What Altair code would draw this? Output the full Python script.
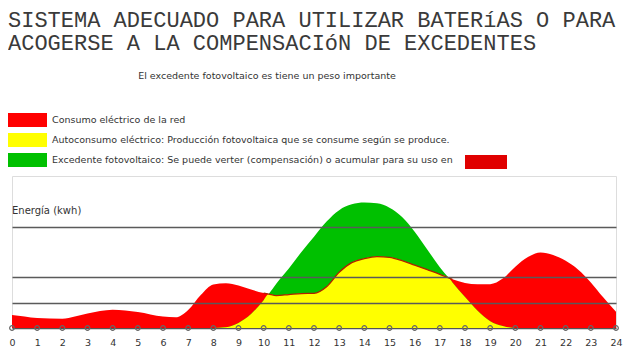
import altair as alt
import pandas as pd

# ---- data ----
hours = [0, 0.5, 1, 2, 3, 4, 5, 6, 6.5, 7, 7.5, 8, 8.5, 9, 9.5, 10, 10.2, 10.5, 11, 11.5,
         12, 12.5, 13, 13.5, 14, 14.5, 15, 15.5, 16, 16.5, 17, 17.35, 17.5, 18, 18.5,
         19, 19.5, 20, 20.5, 21, 21.5, 22, 22.5, 23, 23.5, 24]
consumo = [0.51, 0.45, 0.39, 0.37, 0.57, 0.72, 0.63, 0.45, 0.42, 0.71, 1.3, 1.72, 1.77,
           1.68, 1.52, 1.38, 1.34, 1.28, 1.32, 1.36, 1.37, 1.63, 2.2, 2.58, 2.74, 2.82,
           2.79, 2.66, 2.48, 2.3, 2.12, 1.98, 1.92, 1.78, 1.73, 1.73, 1.95, 2.42, 2.8,
           2.98, 2.88, 2.65, 2.3, 1.8, 1.2, 0.64]
produccion = [0, 0, 0, 0, 0, 0, 0, 0, 0, 0, 0, 0, 0.03, 0.2, 0.55, 1.1, 1.34, 1.75, 2.35,
              3.0, 3.6, 4.2, 4.65, 4.88, 4.95, 4.92, 4.75, 4.38, 3.8, 3.1, 2.4, 1.98, 1.8,
              1.22, 0.68, 0.27, 0.08, 0, 0, 0, 0, 0, 0, 0, 0, 0]
tick_hours = list(range(0, 25))

series = [
    "Consumo eléctrico de la red",
    "Autoconsumo eléctrico: Producción fotovoltaica que se consume según se produce.",
    "Excedente fotovoltaico: Se puede verter (compensación) o acumular para su uso en",
]
colors = ["#ff0000", "#ffff00", "#00c000"]

title_lines = ["SISTEMA ADECUADO PARA UTILIZAR BATERíAS O PARA",
               "ACOGERSE A LA COMPENSACIóN DE EXCEDENTES"]
subtitle = "El excedente fotovoltaico es tiene un peso importante"
y_label = "Energía (kwh)"

# ---- tables ----
rows = []
for h, c, p in zip(hours, consumo, produccion):
    rows.append({"hora": h, "valor": c, "serie": series[0]})
    rows.append({"hora": h, "valor": p, "serie": series[2]})
    rows.append({"hora": h, "valor": min(c, p), "serie": series[1]})
df = pd.DataFrame(rows)
df_line = pd.DataFrame({"hora": hours, "valor": consumo})
df_ticks = pd.DataFrame({"hora": tick_hours, "valor": [0] * len(tick_hours)})

small_font = "DejaVu Sans"

x_enc = alt.X("hora:Q", scale=alt.Scale(domain=[0, 24], nice=False),
              axis=alt.Axis(values=tick_hours, title=None, grid=False, ticks=False,
                            domain=True, domainColor="#555", domainWidth=1.5,
                            labelFont=small_font, labelFontSize=9.5, labelColor="#333",
                            labelPadding=9, labelFlush=False, labelOverlap=False,
                            labelBound=False, tickCount=25))
y_enc = alt.Y("valor:Q", stack=None, scale=alt.Scale(domain=[0, 6], nice=False),
              axis=alt.Axis(values=[1, 2, 4], title=None, labels=False, ticks=False,
                            domain=False, grid=True, gridColor="#5a5a5a",
                            gridWidth=1.5, zindex=1))

color_enc = alt.Color(
    "serie:N",
    scale=alt.Scale(domain=series, range=colors),
    legend=alt.Legend(
        title=None, orient="none", legendX=-7, legendY=-63, direction="vertical",
        symbolType="M-3,-1L3,-1L3,1L-3,1Z", symbolSize=196, symbolOffset=14,
        symbolStrokeWidth=0, symbolOpacity=1, labelOffset=19, labelLimit=0,
        labelFont=small_font, labelFontSize=9.5, labelColor="#333", rowPadding=6,
        padding=0, offset=0,
    ),
)

base = alt.Chart(df)
red = base.transform_filter(alt.datum.serie == series[0]).mark_area(
    interpolate="monotone").encode(x=x_enc, y=y_enc, color=color_enc)
green = base.transform_filter(alt.datum.serie == series[2]).mark_area(
    interpolate="monotone").encode(x=x_enc, y=y_enc, color=color_enc)
yellow = base.transform_filter(alt.datum.serie == series[1]).mark_area(
    interpolate="monotone").encode(x=x_enc, y=y_enc, color=color_enc)

outline = alt.Chart(df_line).transform_filter(
    (alt.datum.hora >= 10) & (alt.datum.hora <= 17.5)).mark_line(
    interpolate="monotone", color="#b02000", strokeWidth=1.3).encode(x=x_enc, y=y_enc)

ticks = alt.Chart(df_ticks).mark_point(shape="circle", size=22, filled=False,
                                       color="#666", strokeWidth=1.2, opacity=1).encode(
    x=x_enc, y=y_enc)

ylab = alt.Chart(pd.DataFrame({"t": [y_label]})).mark_text(
    align="left", baseline="middle", font=small_font, fontSize=10, color="#333").encode(
    x=alt.value(0), y=alt.value(35), text="t:N")

sub = alt.Chart(pd.DataFrame({"t": [subtitle]})).mark_text(
    align="center", baseline="middle", font=small_font, fontSize=9.5, color="#333").encode(
    x=alt.value(255), y=alt.value(-100), text="t:N")

title = alt.Chart(pd.DataFrame({"k": [1]})).mark_text(
    text=title_lines, align="left", baseline="alphabetic", font="Liberation Mono",
    fontSize=22, color="#3a3a3a", lineHeight=23).encode(
    x=alt.value(-4), y=alt.value(-149))

extra_swatch = alt.Chart(pd.DataFrame({"k": [1]})).mark_rect(color="#e00000").encode(
    x=alt.value(453), x2=alt.value(495), y=alt.value(-21), y2=alt.value(-7))

chart = alt.layer(red, green, yellow, outline, ticks, ylab, sub, title, extra_swatch).properties(
    width=604, height=152,
    autosize=alt.AutoSizeParams(type="none"),
    padding={"left": 4, "top": 168, "right": 7, "bottom": 25},
).configure_view(stroke="#888", strokeWidth=1.5).configure(background="white")

chart.save("out.html", embed_options={"renderer": "svg", "actions": False})
